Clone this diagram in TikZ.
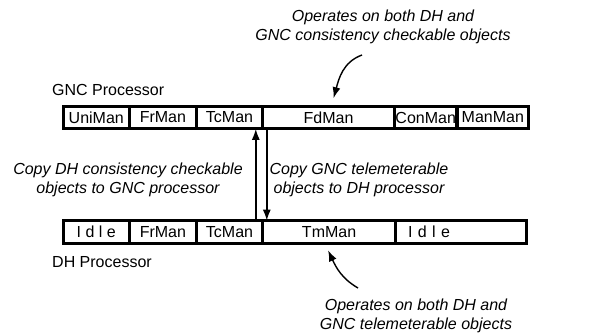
\documentclass[tikz,border=0pt]{standalone}
\usepackage{fontspec}
\setmainfont{Liberation Sans}
\usepackage{tikz}
\usetikzlibrary{arrows.meta,positioning}

\begin{document}
\begin{tikzpicture}[x=1pt, y=-1pt, node distance=0pt,
    font=\fontsize{16}{19}\selectfont, >={Latex[length=11pt,width=8pt]},
    cell/.style={rectangle, draw, line width=1.6pt, minimum height=21pt, inner sep=0pt},
    note/.style={font=\fontsize{16}{19}\selectfont\itshape, align=center, inner sep=0pt}]
    \useasboundingbox (0,0) rectangle (613,334);

    % GNC processor
    \node (gnc) [anchor=west, inner sep=0pt] at (52,90) {GNC Processor};
    \node (guni) [cell, anchor=west, minimum width=65pt] at (63,117.5) {UniMan};
    \node (gfr) [cell, right=of guni, minimum width=65pt] {FrMan};
    \node (gtc) [cell, right=of gfr, minimum width=65pt] {TcMan};
    \node (gfd) [cell, right=of gtc, minimum width=130pt] {FdMan};
    \node (gcon) [cell, right=of gfd, minimum width=61pt] {ConMan};
    \node (gman) [cell, right=of gcon, minimum width=70pt] {ManMan};
    \draw[line width=2.5pt] (guni.north west) rectangle (gman.south east);

    % DH processor
    \node (didle) [cell, anchor=west, minimum width=65pt] at (63,232) {I d l e};
    \node (dfr) [cell, right=of didle, minimum width=65pt] {FrMan};
    \node (dtc) [cell, right=of dfr, minimum width=65pt] {TcMan};
    \node (dtm) [cell, right=of dtc, minimum width=131pt] {TmMan};
    \node (didle2) [cell, right=of dtm, minimum width=130pt, text width=118pt, align=left] {\hspace*{6pt}I d l e};
    \draw[line width=2.5pt] (didle.north west) rectangle (didle2.south east);
    \node (dh) [anchor=west, inner sep=0pt] at (52,262) {DH Processor};

    % Notes
    \node (optop) [note] at (383,27) {Operates on both DH and\\GNC consistency checkable objects};
    \node (copydh) [note] at (128,180) {Copy DH consistency checkable\\objects to GNC processor};
    \node (copygnc) [note] at (359,180) {Copy GNC telemeterable\\objects to DH processor};
    \node (opbot) [note] at (416,316) {Operates on both DH and\\GNC telemeterable objects};
    \coordinate (ctop) at (362,55);
    \coordinate (cbot) at (358,288);

    % Arrows
    \draw[->, line width=1.7pt] ([xshift=-7pt]dtc.north east) -- ([xshift=-7pt]gtc.south east);
    \draw[->, line width=1.7pt] ([xshift=4pt]gfd.south west) -- ([xshift=4pt]dtm.north west);
    \draw[->, line width=1.4pt] (ctop) to[out=200, in=75] ([xshift=5pt, yshift=8pt]gfd.north);
    \draw[->, line width=1.4pt] (cbot) to[out=150, in=-65] ([xshift=-1pt, yshift=-7pt]dtm.south);
\end{tikzpicture}
\end{document}
